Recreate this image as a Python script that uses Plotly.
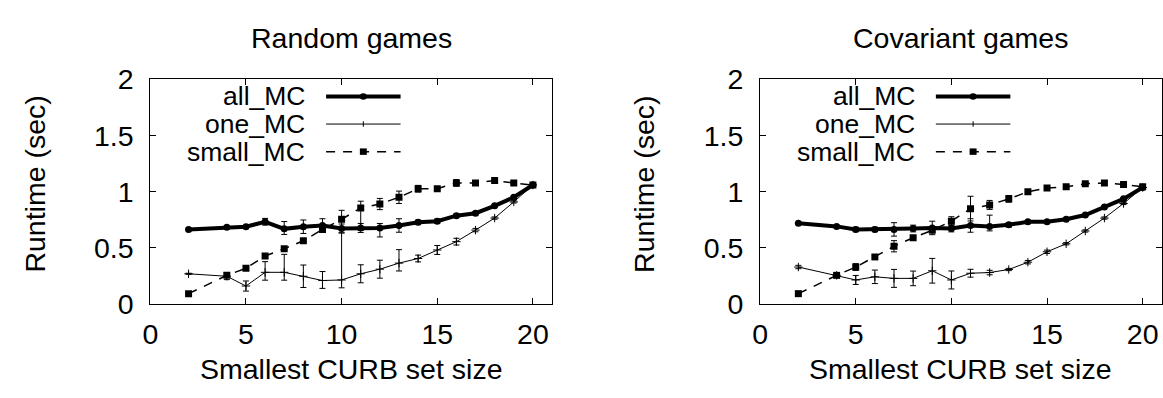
import plotly.graph_objects as go

# ---------------- data ----------------
sizes = [2, 4, 5, 6, 7, 8, 9, 10, 11, 12, 13, 14, 15, 16, 17, 18, 19, 20]
series_names = ["all_MC", "one_MC", "small_MC"]
panel_titles = ["Random games", "Covariant games"]
x_ticks = [0, 5, 10, 15, 20]
y_ticks = [0, 0.5, 1, 1.5, 2]
y_tick_text = ["0", "0.5", "1", "1.5", "2"]

# Random games
rnd_all = [0.665, 0.684, 0.689, 0.733, 0.670, 0.689, 0.700, 0.673, 0.678, 0.678, 0.700, 0.728, 0.738, 0.787, 0.809, 0.875, 0.951, 1.060]
rnd_all_hi = [0.01, 0.01, 0.01, 0.03, 0.065, 0.06, 0.06, 0.04, 0.04, 0.04, 0.06, 0.02, 0.02, 0.015, 0.015, 0.01, 0.01, 0.01]
rnd_all_lo = [0.01, 0.01, 0.01, 0.03, 0.05, 0.06, 0.06, 0.04, 0.04, 0.08, 0.06, 0.02, 0.02, 0.015, 0.015, 0.01, 0.01, 0.01]
rnd_one = [0.270, 0.248, 0.161, 0.283, 0.283, 0.248, 0.210, 0.215, 0.270, 0.311, 0.365, 0.406, 0.482, 0.556, 0.659, 0.766, 0.910, 1.060]
rnd_one_hi = [0.005, 0.03, 0.045, 0.095, 0.16, 0.10, 0.08, 0.42, 0.08, 0.08, 0.12, 0.03, 0.04, 0.03, 0.015, 0.01, 0.01, 0.01]
rnd_one_lo = [0.005, 0.03, 0.045, 0.07, 0.07, 0.10, 0.07, 0.07, 0.08, 0.08, 0.07, 0.03, 0.04, 0.03, 0.015, 0.01, 0.01, 0.01]
rnd_small = [0.093, 0.256, 0.319, 0.428, 0.493, 0.564, 0.665, 0.755, 0.856, 0.891, 0.951, 1.027, 1.027, 1.079, 1.079, 1.100, 1.079, 1.060]
rnd_small_hi = [0.005, 0.01, 0.01, 0.01, 0.01, 0.01, 0.01, 0.08, 0.06, 0.05, 0.055, 0.03, 0.01, 0.03, 0.01, 0.01, 0.01, 0.01]
rnd_small_lo = [0.005, 0.01, 0.01, 0.01, 0.01, 0.01, 0.01, 0.08, 0.20, 0.05, 0.055, 0.03, 0.01, 0.03, 0.01, 0.01, 0.01, 0.01]

# Covariant games
cov_all = [0.719, 0.692, 0.665, 0.665, 0.665, 0.673, 0.678, 0.673, 0.700, 0.692, 0.706, 0.733, 0.733, 0.755, 0.793, 0.864, 0.937, 1.038]
cov_all_hi = [0.01, 0.01, 0.02, 0.02, 0.06, 0.03, 0.06, 0.03, 0.06, 0.10, 0.02, 0.01, 0.01, 0.01, 0.01, 0.01, 0.01, 0.01]
cov_all_lo = [0.01, 0.01, 0.02, 0.02, 0.06, 0.03, 0.06, 0.03, 0.06, 0.04, 0.02, 0.01, 0.01, 0.01, 0.01, 0.01, 0.01, 0.01]
cov_one = [0.330, 0.256, 0.215, 0.243, 0.229, 0.229, 0.297, 0.215, 0.275, 0.281, 0.308, 0.373, 0.466, 0.537, 0.651, 0.766, 0.896, 1.038]
cov_one_err = [0.015, 0.02, 0.04, 0.06, 0.08, 0.065, 0.11, 0.08, 0.035, 0.02, 0.01, 0.015, 0.015, 0.01, 0.01, 0.01, 0.01, 0.01]
cov_small = [0.093, 0.256, 0.330, 0.420, 0.515, 0.591, 0.657, 0.738, 0.850, 0.883, 0.937, 1.000, 1.033, 1.044, 1.071, 1.079, 1.065, 1.044]
cov_small_err = [0.005, 0.01, 0.03, 0.01, 0.05, 0.01, 0.01, 0.04, 0.11, 0.04, 0.03, 0.02, 0.01, 0.01, 0.01, 0.01, 0.01, 0.01]

panels = [
    dict(all=(rnd_all, rnd_all_hi, rnd_all_lo),
         one=(rnd_one, rnd_one_hi, rnd_one_lo),
         small=(rnd_small, rnd_small_hi, rnd_small_lo)),
    dict(all=(cov_all, cov_all_hi, cov_all_lo),
         one=(cov_one, cov_one_err, cov_one_err),
         small=(cov_small, cov_small_err, cov_small_err)),
]

# ---------------- layout geometry (pixels) ----------------
W, H = 1163, 398
FONT = "Liberation Sans, Arial, Helvetica, sans-serif"
FS = 28.5
LEG_FS = 26.5
plot_left_px = [143.3, 757.3]
plot_width_px = 404.5
plot_top_px, plot_bot_px = 69.0, 313.3

fig = go.Figure()

def err(hi, lo):
    return dict(type="data", symmetric=False, array=hi, arrayminus=lo,
                color="black", thickness=1, width=3)

styles = {
    "all": dict(mode="lines+markers", line=dict(color="black", width=4),
                marker=dict(symbol="circle", size=7, color="black")),
    "one": dict(mode="lines+markers", line=dict(color="black", width=1),
                marker=dict(symbol="cross-thin", size=6, color="black",
                            line=dict(color="black", width=1))),
    "small": dict(mode="lines+markers", line=dict(color="black", width=1.5, dash="9px,8px"),
                  marker=dict(symbol="square", size=7, color="black")),
}

shapes = []
annotations = []
for i, p in enumerate(panels):
    xa = "x" if i == 0 else "x2"
    ya = "y" if i == 0 else "y2"
    for key in ["one", "small", "all"]:
        vals, hi, lo = p[key]
        fig.add_trace(go.Scatter(x=sizes, y=vals, error_y=err(hi, lo),
                                 xaxis=xa, yaxis=ya, showlegend=False,
                                 **styles[key]))
    left = plot_left_px[i]
    dom = [left / W, (left + plot_width_px) / W]
    ydom = [(H - plot_bot_px) / H, (H - plot_top_px) / H]
    axcommon = dict(showline=True, linecolor="black", linewidth=1, mirror="ticks",
                    ticks="inside", ticklen=6, tickcolor="black", showgrid=False,
                    zeroline=False, tickfont=dict(family=FONT, size=FS, color="black"))
    sfx = "" if i == 0 else "2"
    fig.update_layout(**{
        "xaxis" + sfx: dict(domain=dom, range=[0, 21], tickvals=x_ticks,
                            anchor="y" + sfx, ticklabelstandoff=5, **axcommon),
        "yaxis" + sfx: dict(domain=ydom, range=[0, 2], tickvals=y_ticks, ticktext=y_tick_text,
                            anchor="x" + sfx, ticklabelstandoff=10, **axcommon),
    })
    cx = (left + plot_width_px / 2) / W
    annotations.append(dict(text=panel_titles[i], x=cx, y=1 - 24 / H, xref="paper", yref="paper",
                            showarrow=False, xanchor="center", yanchor="middle",
                            font=dict(family=FONT, size=FS, color="black")))
    annotations.append(dict(text="Smallest CURB set size", x=cx, y=1 - 384 / H,
                            xref="paper", yref="paper", showarrow=False,
                            xanchor="center", yanchor="middle",
                            font=dict(family=FONT, size=FS, color="black")))
    ylab_x = [27.5, 641.0][i]
    annotations.append(dict(text="Runtime (sec)", x=ylab_x / W, y=1 - 183 / H,
                            xref="paper", yref="paper", showarrow=False, textangle=-90,
                            xanchor="center", yanchor="middle",
                            font=dict(family=FONT, size=FS, color="black")))
    # legend (gnuplot style: text right-aligned, sample on the right)
    xr = xa + " domain"
    yr = ya + " domain"
    ph = plot_bot_px - plot_top_px
    leg_y = [(plot_bot_px - 87.5) / ph, (plot_bot_px - 117.5) / ph, (plot_bot_px - 147.5) / ph]
    text_right = 156.7 / plot_width_px
    s0, s1, sm = 177 / plot_width_px, 252 / plot_width_px, 214.5 / plot_width_px
    hx = 1.0 / plot_width_px
    hy = 1.0 / ph
    for j, name in enumerate(series_names):
        annotations.append(dict(text=name, x=text_right, y=leg_y[j], xref=xr, yref=yr,
                                showarrow=False, xanchor="right", yanchor="middle",
                                borderpad=0,
                                font=dict(family=FONT, size=LEG_FS, color="black")))
    # all_MC sample
    shapes.append(dict(type="line", xref=xr, yref=yr, x0=s0, x1=s1, y0=leg_y[0], y1=leg_y[0],
                       line=dict(color="black", width=4)))
    shapes.append(dict(type="circle", xref=xr, yref=yr, x0=sm - 3.5 * hx, x1=sm + 3.5 * hx,
                       y0=leg_y[0] - 3.5 * hy, y1=leg_y[0] + 3.5 * hy,
                       fillcolor="black", line=dict(color="black", width=0)))
    # one_MC sample
    shapes.append(dict(type="line", xref=xr, yref=yr, x0=s0, x1=s1, y0=leg_y[1], y1=leg_y[1],
                       line=dict(color="black", width=1)))
    shapes.append(dict(type="line", xref=xr, yref=yr, x0=sm, x1=sm,
                       y0=leg_y[1] - 3 * hy, y1=leg_y[1] + 3 * hy,
                       line=dict(color="black", width=1)))
    # small_MC sample
    shapes.append(dict(type="line", xref=xr, yref=yr, x0=s0, x1=s1, y0=leg_y[2], y1=leg_y[2],
                       line=dict(color="black", width=1.5, dash="9px,8px")))
    shapes.append(dict(type="rect", xref=xr, yref=yr, x0=sm - 3.5 * hx, x1=sm + 3.5 * hx,
                       y0=leg_y[2] - 3.5 * hy, y1=leg_y[2] + 3.5 * hy,
                       fillcolor="black", line=dict(color="black", width=0)))

fig.update_layout(width=W, height=H, margin=dict(l=0, r=0, t=0, b=0),
                  paper_bgcolor="white", plot_bgcolor="white",
                  showlegend=False, shapes=shapes, annotations=annotations,
                  font=dict(family=FONT, size=FS, color="black"))

fig.write_html("out.html")
